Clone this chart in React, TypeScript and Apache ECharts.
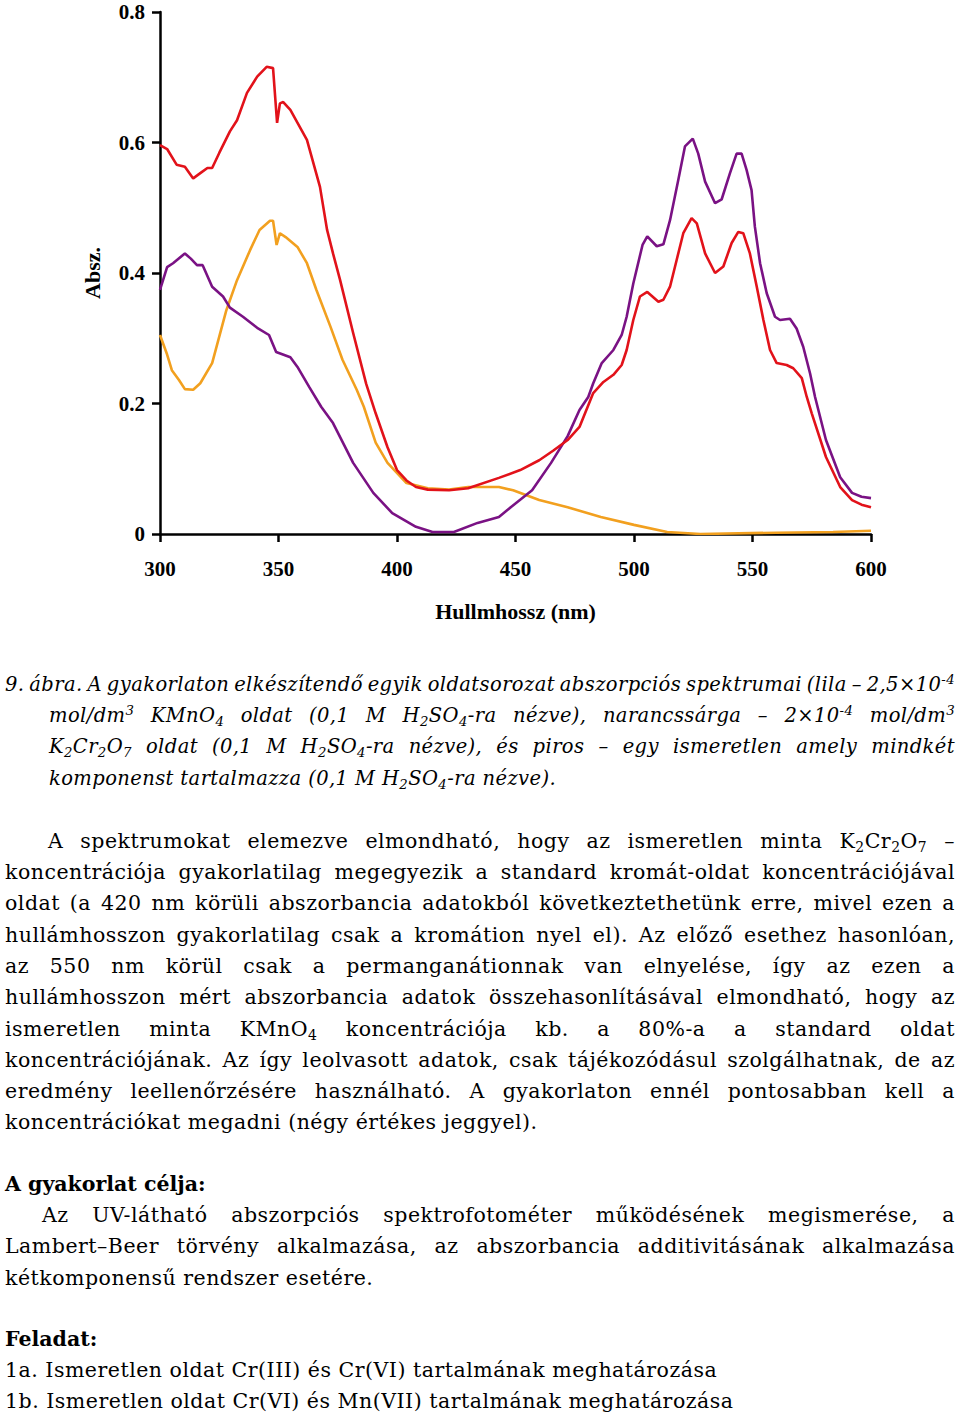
import React, { useEffect, useLayoutEffect, useRef } from "react";
import * as echarts from "echarts";

// ---- Data ----
const xTicks = [300, 350, 400, 450, 500, 550, 600];
const yTicks = [0, 0.2, 0.4, 0.6, 0.8];

const purpleNm = [300, 303, 305.5, 310.5, 313, 315.6, 318, 322, 326.6, 329.5, 335, 341, 346, 349, 355, 358, 363, 368, 373, 381.5, 390, 398, 408, 415, 424, 434, 443, 448, 457, 465, 472, 477, 480.7, 482.8, 486.4, 491.3, 494.8, 496.9, 499.7, 503.6, 505.6, 509.6, 512.4, 515.2, 518.7, 521.5, 524.8, 527.1, 530, 534.2, 537, 540.5, 543.3, 545.4, 547.5, 549.6, 551, 553.2, 556, 559.5, 561.6, 565.8, 568.6, 571.4, 574.3, 576.4, 581, 587, 592, 596, 600];
const purpleAbs = [0.374, 0.409, 0.415, 0.43, 0.422, 0.412, 0.412, 0.379, 0.364, 0.347, 0.333, 0.316, 0.305, 0.279, 0.271, 0.256, 0.225, 0.195, 0.17, 0.109, 0.063, 0.032, 0.011, 0.003, 0.003, 0.017, 0.026, 0.041, 0.067, 0.109, 0.15, 0.19, 0.21, 0.231, 0.262, 0.282, 0.305, 0.333, 0.384, 0.443, 0.456, 0.441, 0.444, 0.481, 0.543, 0.594, 0.606, 0.583, 0.54, 0.507, 0.513, 0.553, 0.583, 0.583, 0.558, 0.527, 0.471, 0.415, 0.369, 0.333, 0.328, 0.33, 0.315, 0.287, 0.246, 0.21, 0.144, 0.087, 0.063, 0.057, 0.055];

const orangeNm = [300, 303, 305, 308, 310.5, 314, 317, 322, 328, 332.5, 338, 342, 346.4, 347.7, 349.2, 350.6, 353, 358, 362, 366, 372, 377, 383, 386, 391, 396, 404, 413, 422, 430, 443, 449, 460, 472, 486, 500, 514, 528, 560, 584, 600];
const orangeAbs = [0.305, 0.275, 0.251, 0.236, 0.222, 0.221, 0.231, 0.262, 0.343, 0.389, 0.435, 0.466, 0.48, 0.48, 0.443, 0.461, 0.455, 0.44, 0.415, 0.374, 0.317, 0.267, 0.221, 0.195, 0.14, 0.109, 0.078, 0.07, 0.068, 0.072, 0.072, 0.067, 0.052, 0.041, 0.026, 0.014, 0.003, 0.0, 0.002, 0.003, 0.005];

const redNm = [300, 303, 307, 310.5, 314, 317, 320, 322, 325, 329.5, 332.5, 336.7, 341, 345, 347.7, 349.4, 350.6, 352, 355, 362, 367.5, 370.5, 373, 376, 381.5, 387, 391, 396, 400, 404, 408, 413, 422, 430, 443, 452, 460, 466, 472, 477, 482.8, 487.1, 491.3, 494.8, 496.9, 499.7, 502.5, 505.6, 510.3, 512.4, 515.2, 518, 520.8, 524.3, 526.5, 530, 534.2, 537.7, 541.2, 544, 546.1, 548.9, 551.8, 554.6, 557.4, 560.2, 564.4, 567.2, 570.8, 572.9, 575, 581, 587, 592, 596, 600];
const redAbs = [0.596, 0.59, 0.566, 0.563, 0.545, 0.553, 0.561, 0.561, 0.584, 0.617, 0.634, 0.676, 0.701, 0.716, 0.714, 0.63, 0.66, 0.662, 0.65, 0.604, 0.532, 0.466, 0.43, 0.389, 0.308, 0.23, 0.185, 0.133, 0.098, 0.082, 0.072, 0.068, 0.067, 0.07, 0.086, 0.098, 0.113, 0.128, 0.144, 0.164, 0.216, 0.233, 0.244, 0.259, 0.282, 0.328, 0.364, 0.371, 0.356, 0.359, 0.379, 0.42, 0.461, 0.484, 0.476, 0.43, 0.4, 0.41, 0.446, 0.463, 0.461, 0.43, 0.379, 0.328, 0.282, 0.262, 0.259, 0.254, 0.239, 0.21, 0.185, 0.118, 0.072, 0.052, 0.045, 0.041];

const zip = (xs: number[], ys: number[]) => xs.map((x, i) => [x, ys[i]]);

const TEXT_FONT = "'DejaVu Serif', serif";
const RIGHT = 955;

const Sub = ({ t }: { t: string }) => (
  <span style={{ fontSize: "0.68em", verticalAlign: "-0.28em", lineHeight: 0 }}>{t}</span>
);
const Sup = ({ t }: { t: string }) => (
  <span style={{ fontSize: "0.68em", verticalAlign: "0.5em", lineHeight: 0 }}>{t}</span>
);

type LineProps = {
  b: number;
  x: number;
  j?: boolean;
  kind?: "it" | "rm" | "bd";
  children: React.ReactNode;
};

const styleFor = (kind: string) => {
  if (kind === "it") return { fontSize: 19.5, letterSpacing: "0.4px", fontStyle: "italic", fontWeight: "normal" };
  if (kind === "bd") return { fontSize: 20.5, letterSpacing: "0px", fontStyle: "normal", fontWeight: "bold" };
  return { fontSize: 20.5, letterSpacing: "0.5px", fontStyle: "normal", fontWeight: "normal" };
};

const Line = ({ b, x, j, kind = "rm", children }: LineProps) => {
  const st = styleFor(kind);
  return (
    <div
      style={{
        position: "absolute",
        left: x,
        top: b - 19.3,
        width: RIGHT - x,
        height: 24,
        lineHeight: "24px",
        fontFamily: TEXT_FONT,
        ...st,
        color: "#000",
        whiteSpace: "nowrap",
      } as React.CSSProperties}
    >
      <span data-jw={j ? String(RIGHT - x) : undefined}>{children}</span>
    </div>
  );
};

function Chart() {
  const ref = useRef<HTMLDivElement>(null);
  useEffect(() => {
    if (!ref.current) return;
    const chart = echarts.init(ref.current, null, { renderer: "svg" });
    const labelFont = {
      fontFamily: "'Liberation Serif', serif",
      fontWeight: "bold" as const,
      fontSize: 21,
      color: "#000",
    };
    const axisLine = { show: true, lineStyle: { color: "#000", width: 2.5 } };
    const axisTick = { show: true, length: 8, lineStyle: { color: "#000", width: 2.5 } };
    chart.setOption({
      animation: false,
      backgroundColor: "#fff",
      grid: { left: 160, top: 12, width: 711, height: 522, containLabel: false },
      xAxis: {
        type: "value",
        min: xTicks[0],
        max: xTicks[xTicks.length - 1],
        interval: xTicks[1] - xTicks[0],
        axisLine,
        axisTick,
        splitLine: { show: false },
        axisLabel: { ...labelFont, margin: 24 },
        name: "Hullmhossz (nm)",
        nameLocation: "middle",
        nameGap: 66,
        nameTextStyle: { ...labelFont, fontSize: 22, verticalAlign: "top" },
      },
      yAxis: {
        type: "value",
        min: yTicks[0],
        max: yTicks[yTicks.length - 1],
        interval: yTicks[1] - yTicks[0],
        axisLine,
        axisTick,
        splitLine: { show: false },
        axisLabel: {
          ...labelFont,
          margin: 15,
          formatter: (v: number) => (v === 0 ? "0" : v.toFixed(1)),
        },
        name: "Absz.",
        nameLocation: "middle",
        nameGap: 57,
        nameRotate: 90,
        nameTextStyle: { ...labelFont, fontSize: 22 },
      },
      series: [
        {
          name: "narancssárga",
          type: "line",
          data: zip(orangeNm, orangeAbs),
          showSymbol: false,
          lineStyle: { color: "#F2A01F", width: 2.6 },
          itemStyle: { color: "#F2A01F" },
        },
        {
          name: "lila",
          type: "line",
          data: zip(purpleNm, purpleAbs),
          showSymbol: false,
          lineStyle: { color: "#7A1284", width: 2.6 },
          itemStyle: { color: "#7A1284" },
        },
        {
          name: "piros",
          type: "line",
          data: zip(redNm, redAbs),
          showSymbol: false,
          lineStyle: { color: "#E2121A", width: 2.6 },
          itemStyle: { color: "#E2121A" },
        },
      ],
    });
    return () => chart.dispose();
  }, []);
  return (
    <div
      ref={ref}
      style={{ position: "absolute", left: 0, top: 0, width: 960, height: 640 }}
    />
  );
}

export default function App() {
  const s = 31.3;
  const cap0 = 692;
  const p0 = 848;
  const h0 = 1191;
  const f0 = 1346;

  useLayoutEffect(() => {
    const fit = () => {
      document.querySelectorAll<HTMLElement>("[data-jw]").forEach((el) => {
        el.style.wordSpacing = "0px";
        const w = el.getBoundingClientRect().width;
        const target = Number(el.dataset.jw);
        const spaces = ((el.textContent || "").match(/ /g) || []).length;
        if (spaces > 0) el.style.wordSpacing = (target - w) / spaces + "px";
      });
    };
    fit();
    const fonts = (document as any).fonts;
    if (fonts && fonts.ready) fonts.ready.then(fit);
  }, []);

  return (
    <div
      style={{
        position: "absolute",
        left: 0,
        top: 0,
        width: 960,
        height: 1420,
        background: "#fff",
        overflow: "hidden",
      }}
    >
      <Chart />
      {/* Caption */}
      <Line b={cap0} x={5} j kind="it">
        9. ábra. A gyakorlaton elkészítendő egyik oldatsorozat abszorpciós spektrumai (lila – 2,5×10<Sup t="-4" />
      </Line>
      <Line b={cap0 + s} x={49} j kind="it">
        mol/dm<Sup t="3" /> KMnO<Sub t="4" /> oldat (0,1 M H<Sub t="2" />SO<Sub t="4" />-ra nézve), narancssárga – 2×10<Sup t="-4" /> mol/dm<Sup t="3" />
      </Line>
      <Line b={cap0 + 2 * s} x={49} j kind="it">
        K<Sub t="2" />Cr<Sub t="2" />O<Sub t="7" /> oldat (0,1 M H<Sub t="2" />SO<Sub t="4" />-ra nézve), és piros – egy ismeretlen amely mindkét
      </Line>
      <Line b={cap0 + 3 * s} x={49} kind="it">
        komponenst tartalmazza (0,1 M H<Sub t="2" />SO<Sub t="4" />-ra nézve).
      </Line>

      {/* Paragraph */}
      <Line b={p0} x={48} j>
        A spektrumokat elemezve elmondható, hogy az ismeretlen minta K<Sub t="2" />Cr<Sub t="2" />O<Sub t="7" /> –
      </Line>
      <Line b={p0 + s} x={5} j>
        koncentrációja gyakorlatilag megegyezik a standard kromát-oldat koncentrációjával
      </Line>
      <Line b={p0 + 2 * s} x={5} j>
        oldat (a 420 nm körüli abszorbancia adatokból következtethetünk erre, mivel ezen a
      </Line>
      <Line b={p0 + 3 * s} x={5} j>
        hullámhosszon gyakorlatilag csak a kromátion nyel el). Az előző esethez hasonlóan,
      </Line>
      <Line b={p0 + 4 * s} x={5} j>
        az 550 nm körül csak a permanganátionnak van elnyelése, így az ezen a
      </Line>
      <Line b={p0 + 5 * s} x={5} j>
        hullámhosszon mért abszorbancia adatok összehasonlításával elmondható, hogy az
      </Line>
      <Line b={p0 + 6 * s} x={5} j>
        ismeretlen minta KMnO<Sub t="4" /> koncentrációja kb. a 80%-a a standard oldat
      </Line>
      <Line b={p0 + 7 * s} x={5} j>
        koncentrációjának. Az így leolvasott adatok, csak tájékozódásul szolgálhatnak, de az
      </Line>
      <Line b={p0 + 8 * s} x={5} j>
        eredmény leellenőrzésére használható. A gyakorlaton ennél pontosabban kell a
      </Line>
      <Line b={p0 + 9 * s} x={5}>
        koncentrációkat megadni (négy értékes jeggyel).
      </Line>

      {/* Aim */}
      <Line b={h0} x={5} kind="bd">
        A gyakorlat célja:
      </Line>
      <Line b={h0 + s} x={42} j>
        Az UV-látható abszorpciós spektrofotométer működésének megismerése, a
      </Line>
      <Line b={h0 + 2 * s} x={5} j>
        Lambert–Beer törvény alkalmazása, az abszorbancia additivitásának alkalmazása
      </Line>
      <Line b={h0 + 3 * s} x={5}>
        kétkomponensű rendszer esetére.
      </Line>

      {/* Task */}
      <Line b={f0} x={5} kind="bd">
        Feladat:
      </Line>
      <Line b={f0 + s} x={5}>
        1a. Ismeretlen oldat Cr(III) és Cr(VI) tartalmának meghatározása
      </Line>
      <Line b={f0 + 2 * s} x={5}>
        1b. Ismeretlen oldat Cr(VI) és Mn(VII) tartalmának meghatározása
      </Line>
    </div>
  );
}
